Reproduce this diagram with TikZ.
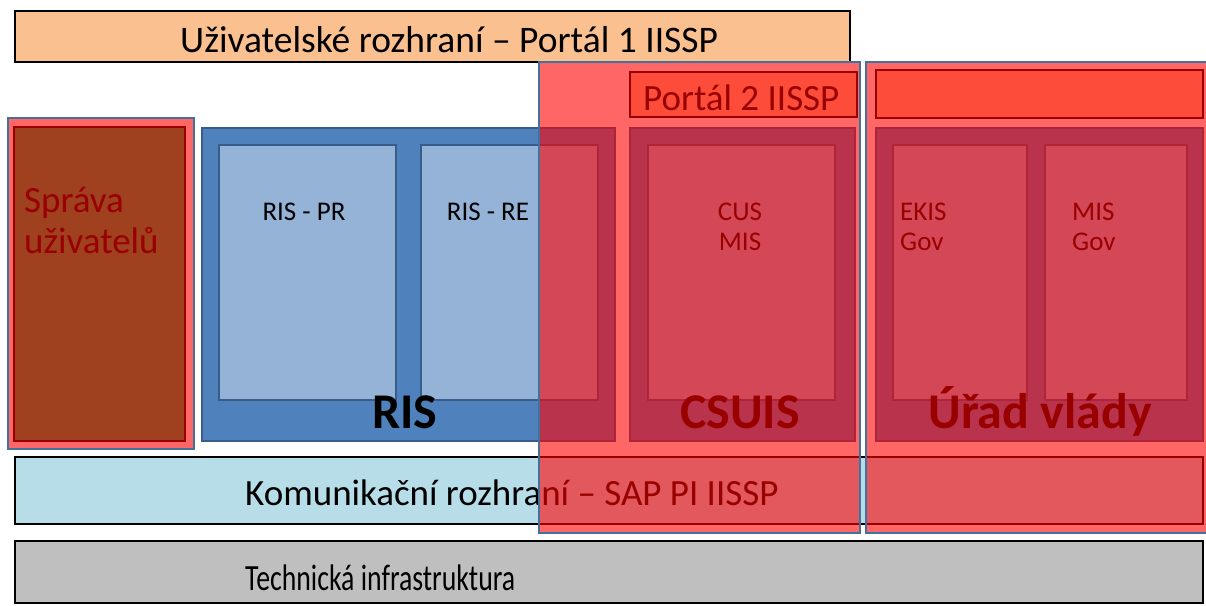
\documentclass[tikz,border=0pt]{standalone}
\usepackage{fontspec}
\setmainfont{Carlito}
\definecolor{uiorange}{HTML}{FAC090}
\definecolor{risblue}{HTML}{4F81BD}
\definecolor{risline}{HTML}{385D8A}
\definecolor{rislight}{HTML}{95B3D7}
\definecolor{komblue}{HTML}{B7DEE8}
\definecolor{techgray}{HTML}{BFBFBF}
\definecolor{sprgreen}{RGB}{17,160,75}
\definecolor{ovline}{HTML}{41719C}
\tikzset{
  layer/.style={draw=black, line width=2.5pt},
  bluebox/.style={fill=risblue, draw=risline, line width=2pt},
  lightbox/.style={fill=rislight, draw=risline, line width=2pt},
  overlay/.style={fill=red, fill opacity=0.6, draw=ovline, draw opacity=1, line width=2pt},
  big/.style={font=\fontsize{37.5}{40}\selectfont},
  spr/.style={font=\fontsize{37}{40}\selectfont},
  mid/.style={font=\fontsize{37}{40}\selectfont},
  small/.style={font=\fontsize{27}{30}\selectfont},
  title/.style={font=\fontsize{50}{54}\selectfont\bfseries},
}
\begin{document}
\begin{tikzpicture}[x=1pt,y=-1pt]
\useasboundingbox (0,0) rectangle (1206,605);
% top user interface
\draw[layer, fill=uiorange] (15,11) rectangle (850,62);
\node[big, anchor=base west, inner sep=0pt] (ui) at (180,52) {Uživatelské rozhraní – Portál 1 IISSP};
% portal 2 and urad top box
\draw[layer, fill=uiorange] (630,72) rectangle (857,117);
\node[mid, anchor=base west, inner sep=0pt] (p2) at (643,110) {Portál 2 IISSP};
\draw[layer, fill=uiorange] (876,70) rectangle (1203,118);
% sprava
\draw[layer, fill=sprgreen] (14,127) rectangle (185,441);
\node[spr, anchor=base west, inner sep=0pt] (spr1) at (24,212) {Správa};
\node[spr, anchor=base west, inner sep=0pt] (spr2) at (24,253) {uživatelů};
% RIS
\draw[bluebox] (202,128) rectangle (615,441);
\draw[lightbox] (219,145) rectangle (396,400);
\draw[lightbox] (421,145) rectangle (598,400);
\node[small, anchor=base] (rispr) at (304,220) {RIS - PR};
\node[small, anchor=base] (risre) at (488,220) {RIS - RE};
\node[title, anchor=base] (ris) at (405,428) {RIS};
% CSUIS
\draw[bluebox] (630,128) rectangle (855,441);
\draw[lightbox] (648,145) rectangle (835,400);
\node[small, anchor=base] (cus) at (740,220) {CUS};
\node[small, anchor=base] (mis1) at (740,250) {MIS};
\node[title, anchor=base] (csuis) at (740,428) {CSUIS};
% Urad vlady
\draw[bluebox] (876,128) rectangle (1203,441);
\draw[lightbox] (893,145) rectangle (1027,400);
\draw[lightbox] (1045,145) rectangle (1187,400);
\node[small, anchor=base west, inner sep=0pt] (ekis) at (900,220) {EKIS};
\node[small, anchor=base west, inner sep=0pt] (gov1) at (900,250) {Gov};
\node[small, anchor=base west, inner sep=0pt] (mis2) at (1072,220) {MIS};
\node[small, anchor=base west, inner sep=0pt] (gov2) at (1072,250) {Gov};
\node[title, anchor=base] (urad) at (1040,428) {Úřad vlády};
% communication
\draw[layer, fill=komblue] (15,457) rectangle (1203,524);
\node[mid, anchor=base west, inner sep=0pt] (kom) at (245,505) {Komunikační rozhraní – SAP PI IISSP};
% technical
\draw[layer, fill=techgray] (15,541) rectangle (1203,603);
\node[mid, anchor=base west, inner sep=0pt] (tech) at (245,590) {\scalebox{0.75}[1]{Technická infrastruktura}};
% overlays
\draw[overlay] (8,118) rectangle (194,449);
\draw[overlay] (539,62) rectangle (860,533);
\draw[overlay] (866,62) rectangle (1215,533);
\end{tikzpicture}
\end{document}
